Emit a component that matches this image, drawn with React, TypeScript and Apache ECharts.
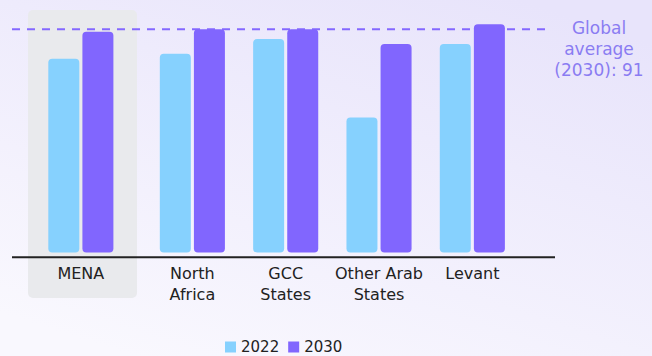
import React, { useEffect, useRef } from "react";
import * as echarts from "echarts";

const regions = ["MENA", "North\nAfrica", "GCC\nStates", "Other Arab\nStates", "Levant"];
const values2022 = [79, 81, 87, 55, 85];
const values2030 = [90, 91, 91, 85, 93];
const globalAverage2030 = 91;
const globalLabel = "Global\naverage\n(2030): 91";
const seriesNames = ["2022", "2030"];

const FONT = '"DejaVu Sans", "Noto Sans", sans-serif';
const C2022 = "#86d1fe";
const C2030 = "#8166fe";

export default function App() {
  const ref = useRef<HTMLDivElement>(null);
  useEffect(() => {
    document.body.style.margin = "0";
    if (!ref.current) return;
    const chart = echarts.init(ref.current, null, { renderer: "svg" });
    const gridTop = 7.2;
    const gridHeight = 245.3;
    const yAxisCommon = { type: "value", min: 0, max: 100, show: false };
    const xLabel = {
      color: "#222",
      fontSize: 16,
      lineHeight: 21,
      fontFamily: FONT,
      margin: 10,
      interval: 0,
    };
    const barCommon = {
      type: "bar",
      barWidth: 31,
      barGap: "10%",
      z: 3,
    };
    const option: any = {
      animation: false,
      backgroundColor: {
        type: "linear",
        x: 0.2,
        y: 1,
        x2: 0.8,
        y2: 0,
        colorStops: [
          { offset: 0, color: "#f9f8fe" },
          { offset: 1, color: "#e8e4fb" },
        ],
      },
      grid: [
        { left: 12, width: 538, top: gridTop, height: gridHeight },
        { left: 34.2, width: 93.3, top: gridTop, height: gridHeight },
        { left: 145.7, width: 373.3, top: gridTop, height: gridHeight },
      ],
      xAxis: [
        { type: "category", gridIndex: 0, data: ["s", "e"], boundaryGap: false, show: false },
        {
          type: "category",
          gridIndex: 1,
          data: regions.slice(0, 1),
          axisLine: { show: false },
          axisTick: { show: false },
          axisLabel: xLabel,
        },
        {
          type: "category",
          gridIndex: 2,
          data: regions.slice(1),
          axisLine: { show: false },
          axisTick: { show: false },
          axisLabel: xLabel,
        },
      ],
      yAxis: [
        { ...yAxisCommon, gridIndex: 0 },
        { ...yAxisCommon, gridIndex: 1 },
        { ...yAxisCommon, gridIndex: 2 },
      ],
      legend: {
        data: seriesNames,
        left: 225,
        top: 339,
        padding: 0,
        icon: "rect",
        itemWidth: 11,
        itemHeight: 11,
        itemGap: 9,
        textStyle: { color: "#222", fontSize: 15, lineHeight: 16, fontFamily: FONT },
      },
      graphic: [
        {
          type: "rect",
          z: -10,
          shape: { x: 28, y: 10, width: 109, height: 288, r: 5 },
          style: { fill: "#e9eaed" },
        },
        {
          type: "line",
          z: 10,
          shape: { x1: 12, y1: 257.3, x2: 555, y2: 257.3 },
          style: { stroke: "#222", lineWidth: 2 },
        },
        {
          type: "text",
          x: 599,
          y: 17.4,
          style: {
            text: globalLabel,
            fill: "#8a7cf2",
            fontSize: 17,
            fontFamily: FONT,
            align: "center",
            verticalAlign: "top",
            lineHeight: 21,
          },
        },
      ],
      series: [
        {
          name: "Global average",
          type: "line",
          xAxisIndex: 0,
          yAxisIndex: 0,
          data: [globalAverage2030, globalAverage2030],
          symbol: "none",
          z: 1,
          lineStyle: { color: "#8468ff", width: 2, type: [8, 7] },
        },
        {
          ...barCommon,
          name: seriesNames[0],
          xAxisIndex: 1,
          yAxisIndex: 1,
          data: values2022.slice(0, 1),
          itemStyle: { color: C2022, borderRadius: 4 },
        },
        {
          ...barCommon,
          name: seriesNames[1],
          xAxisIndex: 1,
          yAxisIndex: 1,
          data: values2030.slice(0, 1),
          itemStyle: { color: C2030, borderRadius: 4 },
        },
        {
          ...barCommon,
          name: seriesNames[0],
          xAxisIndex: 2,
          yAxisIndex: 2,
          data: values2022.slice(1),
          itemStyle: { color: C2022, borderRadius: 4 },
        },
        {
          ...barCommon,
          name: seriesNames[1],
          xAxisIndex: 2,
          yAxisIndex: 2,
          data: values2030.slice(1),
          itemStyle: { color: C2030, borderRadius: 4 },
        },
      ],
    };
    chart.setOption(option);
    return () => chart.dispose();
  }, []);
  return <div ref={ref} style={{ width: 652, height: 356 }} />;
}
